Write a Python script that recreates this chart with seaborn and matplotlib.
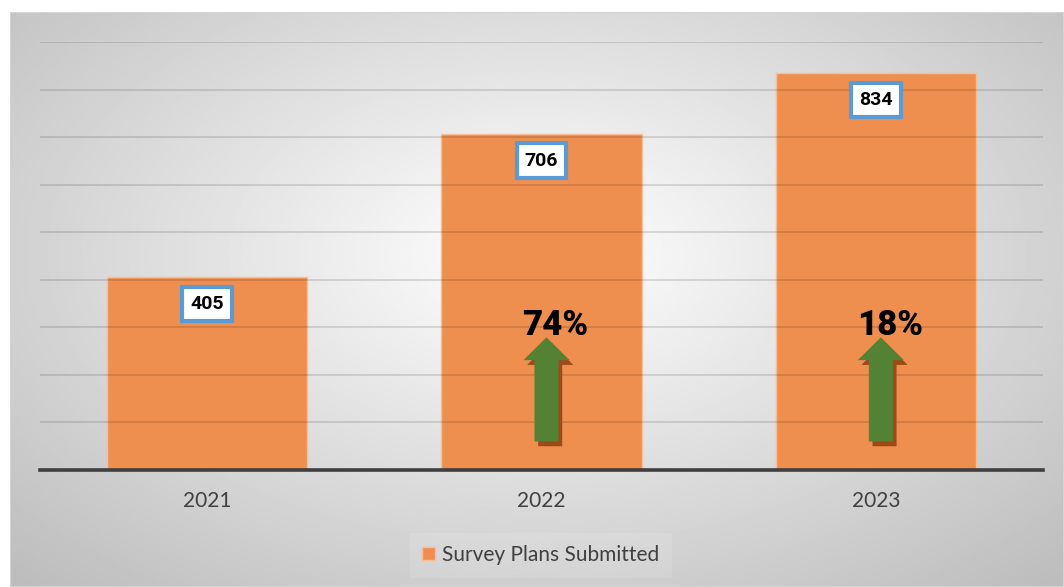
import numpy as np
import pandas as pd
import matplotlib
matplotlib.use("Agg")
import matplotlib.pyplot as plt
import seaborn as sns
from matplotlib.patches import FancyArrow, Rectangle

# ---- data ----
years = ["2021", "2022", "2023"]
plans = [405, 706, 834]
series_name = "Survey Plans Submitted"

sns.set_theme(style="white")
plt.rcParams["font.family"] = ["Lato", "DejaVu Sans"]
bold_family = ["Roboto", "DejaVu Sans"]

W, H = 1064, 587
fig = plt.figure(figsize=(W / 100, H / 100), dpi=100)
fig.patch.set_facecolor("white")

# background radial gradient panel
bg = fig.add_axes([10 / W, 0, (W - 10) / W, (H - 12) / H])
ny, nx = 300, 560
yy, xx = np.mgrid[0:1:ny * 1j, 0:1:nx * 1j]
r = np.sqrt(((xx - 0.5) / 0.72) ** 2 + ((yy - 0.42) / 0.78) ** 2)
val = 1 - 0.26 * np.clip(r, 0, 1)
bg.imshow(val, cmap="gray", vmin=0, vmax=1, aspect="auto",
          extent=[0, 1, 0, 1], origin="upper", interpolation="bilinear")
bg.set_xlim(0, 1)
bg.set_ylim(0, 1)
bg.axis("off")
bg.add_patch(Rectangle((0, 0), 1, 1, transform=bg.transAxes, fill=False,
                       ec="#D4D4D4", lw=1.5))

# main axes
ax = fig.add_axes([40 / W, (H - 470) / H, 1003 / W, 428 / H])
ax.patch.set_alpha(0)
df = pd.DataFrame({"Year": years, "Plans": plans})
sns.barplot(data=df, x="Year", y="Plans", color="#EE8E4F", saturation=1,
            width=0.6, ax=ax, label=series_name, edgecolor="#F7BE98",
            linewidth=1)
ax.set_ylim(0, 900)
ax.set_yticks(range(0, 901, 100))
ax.set_axisbelow(False)
ax.yaxis.grid(True, color="#000000", alpha=0.13, lw=1.3)
ax.xaxis.grid(False)
ax.tick_params(axis="y", left=False, labelleft=False)
ax.tick_params(axis="x", length=0, pad=15, labelsize=15, labelcolor="#404040")
for s in ["left", "top", "right"]:
    ax.spines[s].set_visible(False)
ax.spines["bottom"].set_color("#3F3F3F")
ax.spines["bottom"].set_linewidth(2.6)
ax.spines["bottom"].set_zorder(10)
ax.set_xlabel("")
ax.set_ylabel("")
ax.set_xlim(-0.5, 2.5)

# value labels in boxes
for i, v in enumerate(plans):
    ax.annotate(f"{v}", xy=(i, v), xytext=(0, -19), textcoords="offset points",
                ha="center", va="center", fontsize=14, fontweight="bold",
                family=bold_family, color="black", zorder=6,
                bbox=dict(boxstyle="square,pad=0.42", fc="white",
                          ec="#5B9BD5", lw=3))

# growth arrows and percentages
arrow_x_off = 0.015
shaft_w = 0.072
head_w = 0.138
y0, y_len, head_len = 60, 219, 48
sh_dx, sh_dy = 0.011, -10
for i in range(1, len(plans)):
    g = (plans[i] - plans[i - 1]) / plans[i - 1]
    x = i + arrow_x_off
    ax.add_patch(FancyArrow(x + sh_dx, y0 + sh_dy, 0, y_len, width=shaft_w,
                            head_width=head_w, head_length=head_len,
                            length_includes_head=True, fc="#9C4A16",
                            ec="none", zorder=4))
    ax.add_patch(FancyArrow(x, y0, 0, y_len, width=shaft_w,
                            head_width=head_w, head_length=head_len,
                            length_includes_head=True, fc="#548235",
                            ec="none", zorder=5))
    ax.text(i + 0.042, 303, f"{g:.0%}", ha="center", va="center",
            fontsize=25, fontweight="black", family=bold_family,
            color="black", zorder=6)

# legend
handles, labels = ax.get_legend_handles_labels()
if ax.get_legend() is not None:
    ax.get_legend().remove()
leg = fig.legend(handles[:1], labels[:1], loc="center",
                 bbox_to_anchor=(541 / W, 1 - 555 / H), frameon=True,
                 fontsize=15, handlelength=0.6, handleheight=0.6,
                 handletextpad=0.35, labelcolor="#404040", fancybox=False,
                 borderpad=0.6)
leg.get_frame().set_facecolor("#FFFFFF")
leg.get_frame().set_alpha(0.12)
leg.get_frame().set_edgecolor("none")

fig.savefig("out.png", dpi=100)
